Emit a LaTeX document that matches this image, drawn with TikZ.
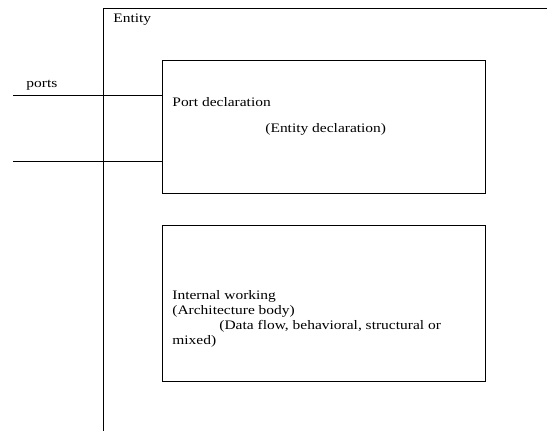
\documentclass[tikz,border=0pt]{standalone}
\usepackage{fontspec}
\setmainfont{Liberation Serif}[FakeStretch=1.19]
\begin{document}
\begin{tikzpicture}[x=1pt,y=-1pt,line width=0.8pt,
  every node/.style={font=\fontsize{13}{15}\selectfont, inner sep=0pt},
  block/.style={draw, minimum width=323pt, minimum height=133pt}]

  \useasboundingbox (0,0) rectangle (547,431);

  \coordinate (ebot)   at (103, 431);
  \coordinate (etop)   at (103, 8);
  \coordinate (eright) at (547, 8);

  \node[block]                      (portbox) at (323.5, 126.5) {};
  \node[block, minimum height=156pt] (archbox) at (323.5, 303)   {};

  \coordinate (p1) at (13, 95);
  \coordinate (p2) at (13, 161);

  \node[anchor=base west] (entity)   at (113, 23)  {Entity};
  \node[anchor=base west] (ports)    at (26, 87)   {ports};
  \node[anchor=base west] (portdecl) at (172, 106) {Port declaration};
  \node[anchor=base west] (entdecl)  at (265, 132) {(Entity declaration)};
  % base of a multi-line node is its last line
  \node[anchor=base west, align=left] (arch) at (172, 344.5)
    {Internal working\\(Architecture body)\\
     \hspace*{47pt}(Data flow, behavioral, structural or\\mixed)};

  \draw (ebot) -- (etop) -- (eright);
  \draw (p1) -- (p1 -| portbox.west);
  \draw (p2) -- (p2 -| portbox.west);
\end{tikzpicture}
\end{document}
